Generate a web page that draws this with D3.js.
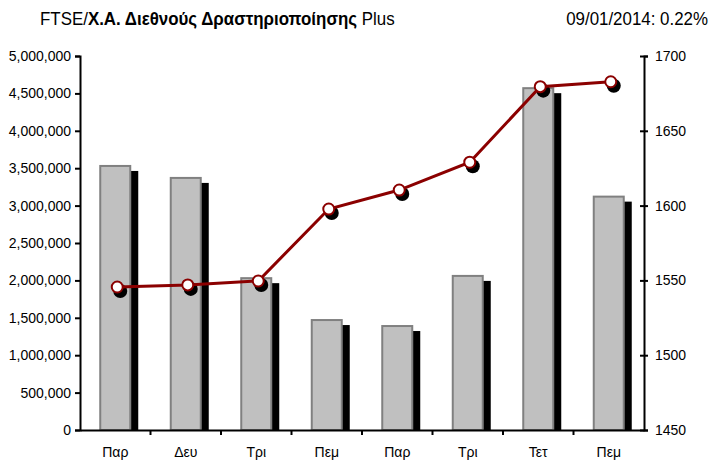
<!DOCTYPE html>
<html>
<head>
<meta charset="utf-8">
<script src="https://cdn.jsdelivr.net/npm/d3@7"></script>
<style>
body { margin: 0; background: #fff; }
svg text { font-family: "Liberation Sans", Arial, sans-serif; }
.title { font-family: "Liberation Sans", Arial, sans-serif; font-size: 19px; }
</style>
</head>
<body>
<div id="plot"></div>
<script>
// data
var days = ["Παρ", "Δευ", "Τρι", "Πεμ", "Παρ", "Τρι", "Τετ", "Πεμ"];
var volume = [3530000, 3370000, 2030000, 1470000, 1390000, 2060000, 4570000, 3120000];
var index = [1545.6, 1547, 1549.6, 1597.7, 1610.4, 1629, 1679.5, 1682.8];
var leftTicks = [0, 500000, 1000000, 1500000, 2000000, 2500000, 3000000, 3500000, 4000000, 4500000, 5000000];
var rightTicks = [1450, 1500, 1550, 1600, 1650, 1700];

var width = 715, height = 466;
var m = {left: 80, right: 71, top: 56, bottom: 36};

var svg = d3.select("#plot").append("svg")
    .attr("width", width)
    .attr("height", height);

// title (narrow font in the original, squeezed horizontally)
var title = svg.append("g")
    .attr("transform", "translate(40,25) scale(0.89,1)")
    .append("text").attr("class", "title");
title.append("tspan").text("FTSE/");
title.append("tspan").style("font-weight", "bold").text("Χ.Α. Διεθνούς Δραστηριοποίησης");
title.append("tspan").text(" Plus");
svg.append("g")
    .attr("transform", "translate(708,25) scale(0.89,1)")
    .append("text").attr("class", "title")
    .attr("text-anchor", "end")
    .text("09/01/2014: 0.22%");

var x = d3.scaleBand()
    .domain(d3.range(days.length))
    .range([m.left, width - m.right]);
var y = d3.scaleLinear().domain([0, 5000000]).range([height - m.bottom, m.top]);
var y2 = d3.scaleLinear().domain([1450, 1700]).range([height - m.bottom, m.top]);

var barW = 30;
var body = svg.append("g");

// clip shadows at baseline
svg.append("clipPath").attr("id", "clip")
    .append("rect")
    .attr("x", m.left).attr("y", 0)
    .attr("width", width - m.left - m.right)
    .attr("height", y(0));

// bar shadows
body.append("g").attr("clip-path", "url(#clip)")
    .selectAll("rect")
    .data(volume)
    .enter().append("rect")
    .attr("x", function(d, i) { return x(i) + x.bandwidth() / 2 - barW / 2 + 8; })
    .attr("y", function(d) { return y(d) + 5; })
    .attr("width", barW)
    .attr("height", function(d) { return y(0) - y(d); })
    .style("fill", "#000");

// bars
body.append("g")
    .selectAll("rect")
    .data(volume)
    .enter().append("rect")
    .attr("x", function(d, i) { return x(i) + x.bandwidth() / 2 - barW / 2; })
    .attr("y", function(d) { return y(d); })
    .attr("width", barW)
    .attr("height", function(d) { return y(0) - y(d); })
    .style("fill", "#C0C0C0")
    .style("stroke", "#808080")
    .style("stroke-width", 2);

// line
var cx = function(d, i) { return x(i) + x.bandwidth() / 2 + 2; };
var line = d3.line()
    .x(function(d, i) { return cx(d, i); })
    .y(function(d) { return y2(d); });

body.append("g").selectAll("circle")
    .data(index)
    .enter().append("circle")
    .attr("cx", function(d, i) { return cx(d, i) + 3; })
    .attr("cy", function(d) { return y2(d) + 4; })
    .attr("r", 7)
    .style("fill", "#000");

body.append("path")
    .datum(index)
    .attr("d", line)
    .style("fill", "none")
    .style("stroke", "#8B0000")
    .style("stroke-width", 3);

body.append("g").selectAll("circle")
    .data(index)
    .enter().append("circle")
    .attr("cx", cx)
    .attr("cy", function(d) { return y2(d); })
    .attr("r", 5.5)
    .style("fill", "#fff")
    .style("stroke", "#8B0000")
    .style("stroke-width", 2);

// axes
var fmt = d3.format(",");
var gl = svg.append("g")
    .attr("transform", "translate(" + m.left + ",0)")
    .call(d3.axisLeft(y).tickValues(leftTicks).tickFormat(fmt).tickSize(5).tickPadding(4));

var gr = svg.append("g")
    .attr("transform", "translate(" + (width - m.right) + ",0)")
    .call(d3.axisRight(y2).tickValues(rightTicks).tickFormat(d3.format("d")).tickSize(4).tickPadding(7));
gr.selectAll(".tick line").attr("x1", -4);

var gb = svg.append("g")
    .attr("transform", "translate(0," + y(0) + ")")
    .call(d3.axisBottom(x).tickFormat(function(i) { return days[i]; }).tickSize(0).tickPadding(17));
gb.selectAll(".tick").filter(function(d, i) { return i > 0; })
    .append("line")
    .attr("x1", -x.bandwidth() / 2).attr("x2", -x.bandwidth() / 2)
    .attr("y1", 0).attr("y2", 5)
    .attr("stroke", "#000").attr("stroke-width", 2);

[gl, gr, gb].forEach(function(g) {
    g.select(".domain").attr("stroke", "#000").attr("stroke-width", 2);
    g.selectAll(".tick line").attr("stroke", "#000").attr("stroke-width", 2);
    g.selectAll("text").style("font-size", "14px").style("font-family", "Liberation Sans, Arial, sans-serif").attr("fill", "#000");
});
</script>
</body>
</html>
